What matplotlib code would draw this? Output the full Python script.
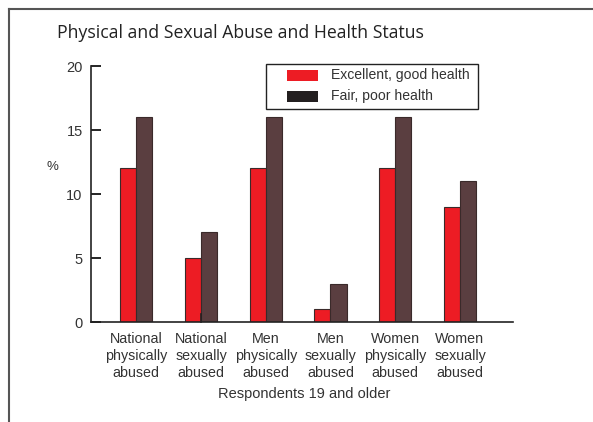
import matplotlib
matplotlib.use("Agg")
import matplotlib.pyplot as plt
from matplotlib.lines import Line2D
from matplotlib.patches import Rectangle
import numpy as np

categories = ["National\nphysically\nabused", "National\nsexually\nabused",
              "Men\nphysically\nabused", "Men\nsexually\nabused",
              "Women\nphysically\nabused", "Women\nsexually\nabused"]
good_health = [12, 5, 12, 1, 12, 9]
poor_health = [16, 7, 16, 3, 16, 11]
series_names = ["Excellent, good health", "Fair, poor health"]
y_ticks = [0, 5, 10, 15, 20]

RED = "#ED1C24"
BROWN = "#5A3E40"
LEGEND_DARK = "#231F20"
TEXT = "#333333"

plt.rcParams["font.family"] = ["Liberation Sans", "DejaVu Sans"]

fig = plt.figure(figsize=(5.93, 4.22), dpi=100)
ax = fig.add_axes([91 / 593, 1 - 322 / 422, (513 - 91) / 593, (322 - 66) / 422])

x = np.arange(len(categories))
w = 0.25
ax.bar(x - w / 2, good_health, width=w, color=RED, edgecolor="#3a2a2a", linewidth=0.8)
ax.bar(x + w / 2, poor_health, width=w, color=BROWN, edgecolor="#3a2a2a", linewidth=0.8)

ax.set_xlim(-0.70, 5.82)
ax.set_ylim(0, 20)
ax.set_yticks(y_ticks)
ax.set_yticklabels([str(v) for v in y_ticks], fontsize=10.5, color=TEXT)
ax.tick_params(axis="y", direction="in", length=7, width=1.2, pad=6)
ax.set_xticks([])
for s in ["top", "right"]:
    ax.spines[s].set_visible(False)
for s in ["left", "bottom"]:
    ax.spines[s].set_linewidth(1.2)
    ax.spines[s].set_color("#222222")

# small upturned tick closing the x axis
ax.plot([1, 1], [0, 0.03], transform=ax.get_xaxis_transform(), color="#222222",
        lw=1.2, clip_on=False)

for xi, lab in zip(x, categories):
    ax.text(xi, -0.04, lab, transform=ax.get_xaxis_transform(), ha="center",
            va="top", fontsize=10.3, color=TEXT, linespacing=1.28)

fig.text(304 / 593, 1 - 394 / 422, "Respondents 19 and older", ha="center",
         va="center", fontsize=10.5, color=TEXT)
fig.text(52 / 593, 1 - 167 / 422, "%", ha="center", va="center", fontsize=9.5,
         color=TEXT)
fig.text(57 / 593, 1 - 33 / 422, "Physical and Sexual Abuse and Health Status",
         ha="left", va="center", fontsize=12.7, color="#222222",
         family=["Open Sans", "DejaVu Sans"])

# legend box drawn in figure pixels
W, H = 593, 422
def fx(px):
    return px / W
def fy(py):
    return 1 - py / H

fig.add_artist(Rectangle((fx(266), fy(109)), fx(478) - fx(266), fy(64) - fy(109),
                         transform=fig.transFigure, facecolor="white",
                         edgecolor="#222222", lw=1.0))
for (name, col, yc) in [(series_names[0], RED, 75), (series_names[1], LEGEND_DARK, 96)]:
    fig.add_artist(Rectangle((fx(287), fy(yc + 5.5)), fx(318) - fx(287), fy(yc - 5.5) - fy(yc + 5.5),
                             transform=fig.transFigure, facecolor=col, edgecolor="none"))
    fig.text(fx(331), fy(yc), name, ha="left", va="center", fontsize=10.1, color=TEXT)

# outer frame (top and left edges)
fig.add_artist(Line2D([9 / 593, 1.0], [1 - 9 / 422, 1 - 9 / 422],
                      color="#555555", lw=1.5))
fig.add_artist(Line2D([9 / 593, 9 / 593], [0, 1 - 9 / 422],
                      color="#555555", lw=1.5))

fig.savefig("out.png", dpi=100)
